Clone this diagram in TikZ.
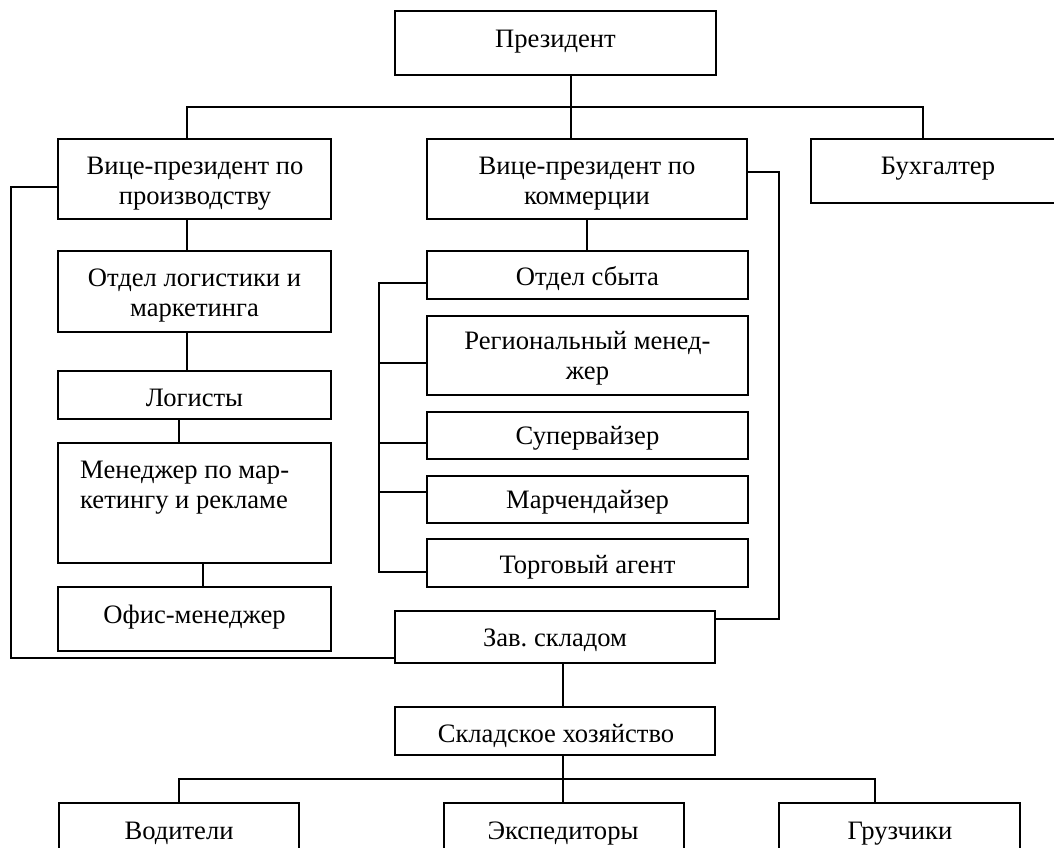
\documentclass[tikz,border=0pt]{standalone}
\usepackage{fontspec}
\setmainfont{Liberation Serif}
\begin{document}
\begin{tikzpicture}[x=1pt,y=-1pt,
  box/.style={draw, line width=1.8pt, inner sep=0pt, outer sep=0pt},
  lbl/.style={anchor=base, inner sep=0pt, font=\fontsize{26.6}{30}\selectfont},
  conn/.style={line width=1.6pt, line join=miter}]
\clip (0,0) rectangle (1054,847);
\fill[white] (0,0) rectangle (1054,847);
% boxes
\node[box, minimum width=321pt, minimum height=64pt] (pres) at (555.5,43) {};
\node[box, minimum width=273pt, minimum height=80pt] (vpp) at (194.5,179) {};
\node[box, minimum width=320pt, minimum height=80pt] (vpc) at (587,179) {};
\node[box, minimum width=254pt, minimum height=64pt] (buh) at (938,171) {};
\node[box, minimum width=273pt, minimum height=81pt] (otl) at (194.5,291.5) {};
\node[box, minimum width=273pt, minimum height=48pt] (log) at (194.5,395) {};
\node[box, minimum width=273pt, minimum height=120pt] (men) at (194.5,503) {};
\node[box, minimum width=273pt, minimum height=64pt] (ofm) at (194.5,619) {};
\node[box, minimum width=321pt, minimum height=48pt] (sbyt) at (587.5,275) {};
\node[box, minimum width=321pt, minimum height=79pt] (reg) at (587.5,355.5) {};
\node[box, minimum width=321pt, minimum height=47pt] (sup) at (587.5,435.5) {};
\node[box, minimum width=321pt, minimum height=47pt] (mar) at (587.5,499.5) {};
\node[box, minimum width=321pt, minimum height=48pt] (tor) at (587.5,563) {};
\node[box, minimum width=320pt, minimum height=52pt] (zav) at (555,637) {};
\node[box, minimum width=320pt, minimum height=48pt] (skl) at (555,731) {};
\node[box, minimum width=240pt, minimum height=80pt] (vod) at (179,843) {};
\node[box, minimum width=240pt, minimum height=80pt] (eks) at (564,843) {};
\node[box, minimum width=241pt, minimum height=80pt] (gru) at (899.5,843) {};
% labels
\node[lbl] (presT) at (555.5,47) {Президент};
\node[lbl] (vppT1) at (195,174) {Вице-президент по};
\node[lbl] (vppT2) at (195,204) {производству};
\node[lbl] (vpcT1) at (587,174) {Вице-президент по};
\node[lbl] (vpcT2) at (587,204) {коммерции};
\node[lbl] (buhT) at (938,174) {Бухгалтер};
\node[lbl] (otlT1) at (194.5,286) {Отдел логистики и};
\node[lbl] (otlT2) at (194.5,316) {маркетинга};
\node[lbl] (logT) at (194.5,406) {Логисты};
\node[lbl, anchor=base west] (menT1) at (80,478) {Менеджер по мар-};
\node[lbl, anchor=base west] (menT2) at (80,508) {кетингу и рекламе};
\node[lbl] (ofmT) at (194.5,623) {Офис-менеджер};
\node[lbl] (sbytT) at (587.5,285) {Отдел сбыта};
\node[lbl] (regT1) at (587.5,349) {Региональный менед-};
\node[lbl] (regT2) at (587.5,379) {жер};
\node[lbl] (supT) at (587.5,444) {Супервайзер};
\node[lbl] (marT) at (587.5,508) {Марчендайзер};
\node[lbl] (torT) at (587.5,573) {Торговый агент};
\node[lbl] (zavT) at (555,646) {Зав.\ складом};
\node[lbl] (sklT) at (556,742) {Складское хозяйство};
\node[lbl] (vodT) at (179,839) {Водители};
\node[lbl] (eksT) at (563,839) {Экспедиторы};
\node[lbl] (gruT) at (900,839) {Грузчики};
% junction coordinates
\coordinate (j0) at (571,107);
\coordinate (jL) at (187,107);
\coordinate (jR) at (923,107);
\coordinate (xa) at (179,431);
\coordinate (xb) at (203,575);
\coordinate (b1) at (379,283);
\coordinate (b2) at (379,363);
\coordinate (b3) at (379,443);
\coordinate (b4) at (379,492);
\coordinate (b5) at (379,572);
\coordinate (r1) at (779,172);
\coordinate (r2) at (779,619);
\coordinate (l1) at (11,187);
\coordinate (l2) at (11,658);
\coordinate (xm) at (563,685);
\coordinate (k1) at (179,779);
\coordinate (k2) at (875,779);
% connectors
\draw[conn] (pres.south -| j0) -- (vpc.north -| j0);
\draw[conn] (vpp.north -| jL) -- (jL) -- (jR) -- (buh.north -| jR);
\draw[conn] (vpp.south -| jL) -- (otl.north -| jL);
\draw[conn] (otl.south -| jL) -- (log.north -| jL);
\draw[conn] (log.south -| xa) -- (men.north -| xa);
\draw[conn] (men.south -| xb) -- (ofm.north -| xb);
\draw[conn] (vpc.south) -- (sbyt.north -| vpc.south);
\draw[conn] (b1 -| sbyt.west) -- (b1) -- (b5) -- (b5 -| tor.west);
\draw[conn] (b2) -- (b2 -| reg.west);
\draw[conn] (b3) -- (b3 -| sup.west);
\draw[conn] (b4) -- (b4 -| mar.west);
\draw[conn] (r1 -| vpc.east) -- (r1) -- (r2) -- (r2 -| zav.east);
\draw[conn] (l1 -| vpp.west) -- (l1) -- (l2) -- (l2 -| zav.west);
\draw[conn] (zav.south -| xm) -- (skl.north -| xm);
\draw[conn] (skl.south -| xm) -- (eks.north -| xm);
\draw[conn] (vod.north -| k1) -- (k1) -- (k2) -- (gru.north -| k2);
\end{tikzpicture}
\end{document}
